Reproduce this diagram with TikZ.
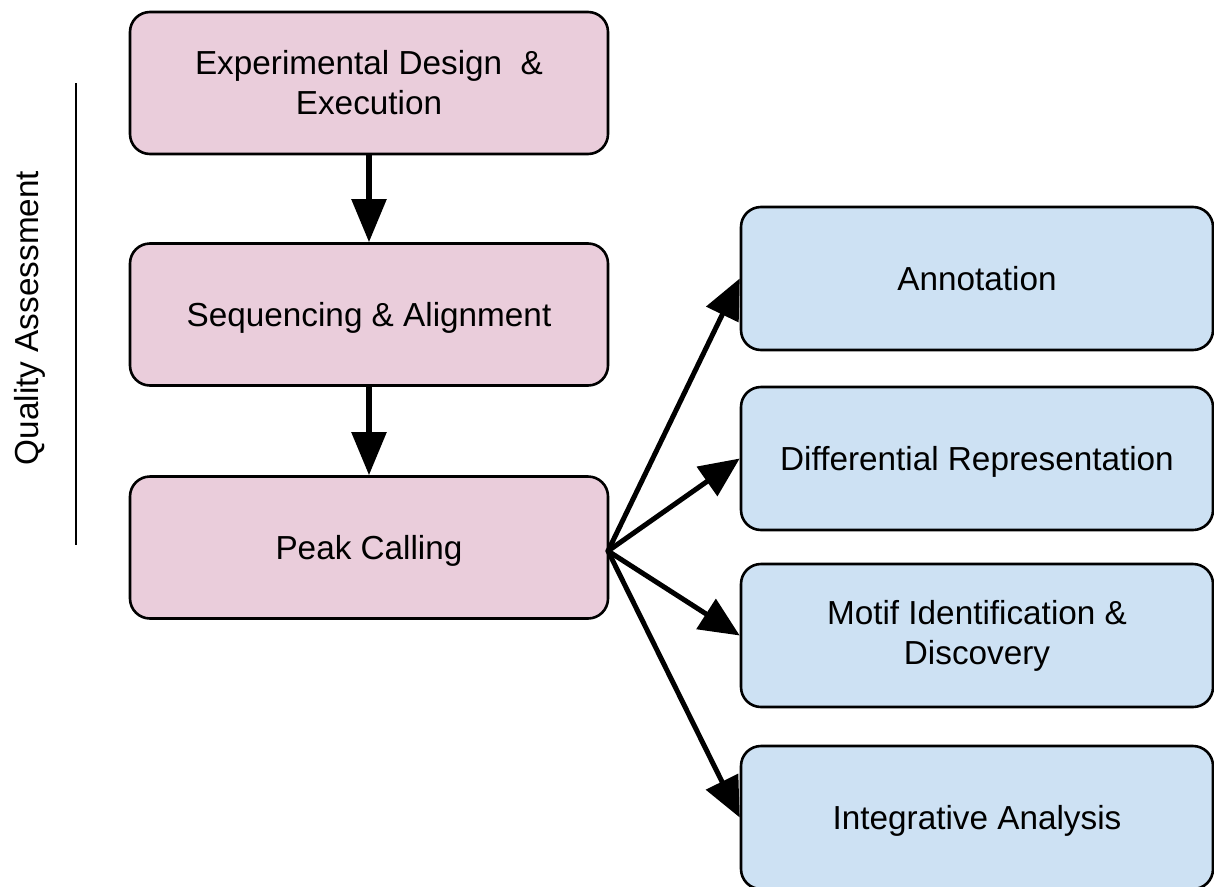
\documentclass[tikz,border=0pt]{standalone}
\usepackage{fontspec}
\setmainfont{Liberation Sans}
\usetikzlibrary{arrows.meta}
\definecolor{pinkfill}{RGB}{234,205,219}
\definecolor{bluefill}{RGB}{205,225,243}
\begin{document}
\begin{tikzpicture}[x=1pt,y=-1pt,
  box/.style={draw=black, line width=2.6pt, rounded corners=20pt, align=center,
    font=\fontsize{33.3}{40}\selectfont, inner sep=0pt},
  capc/.style={text height=24pt, text depth=0pt},
  pinkbox/.style={box, fill=pinkfill, minimum width=478pt, minimum height=142pt},
  bluebox/.style={box, fill=bluefill, minimum width=472pt, minimum height=143pt},
  flow/.style={line width=5.5pt, -{Triangle[length=43pt,width=34pt]}},
  fan/.style={line width=5pt, -{Triangle[length=40pt,width=35pt]}, shorten <=-1pt}
]
\useasboundingbox (0,0) rectangle (1214,886);
\begin{scope}
\clip (0,0) rectangle (1214,886);
\node[pinkbox] (exp) at (369,83) {Experimental Design~~\&\\Execution};
\node[pinkbox, capc] (seq) at (369,314.5) {Sequencing \& Alignment};
\node[pinkbox, capc] (peak) at (369,547.5) {Peak Calling};
\node[bluebox, capc] (ann) at (977,278.5) {Annotation};
\node[bluebox, capc] (diff) at (977,458.5) {Differential Representation};
\node[bluebox] (motif) at (977,635.5) {Motif Identification \&\\Discovery};
\node[bluebox, capc] (integ) at (977,817.5) {Integrative Analysis};
\end{scope}
\draw[flow] (exp.south) -- (seq.north);
\draw[flow] (seq.south) -- (peak.north);
\coordinate (hub) at (608,551);
\draw[fan] (hub) -- (ann.west);
\draw[fan] (hub) -- (diff.west);
\draw[fan] (hub) -- (motif.west);
\draw[fan] (hub) -- (integ.west);
\coordinate (qtop) at (76,83);
\coordinate (qbot) at (76,545);
\draw[line width=2pt] (qtop) -- (qbot);
\node[rotate=90, font=\fontsize{33.3}{40}\selectfont, inner sep=0pt] (qa) at (30,318) {Quality Assessment};
\end{tikzpicture}
\end{document}
